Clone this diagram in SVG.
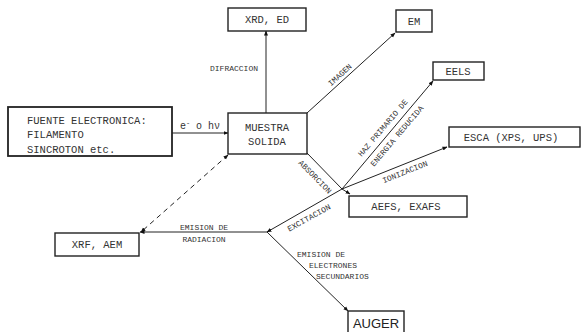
<svg xmlns="http://www.w3.org/2000/svg" width="582" height="332" viewBox="0 0 582 332">
<defs>
<marker id="ah" viewBox="0 0 10 10" refX="9" refY="5" markerWidth="5" markerHeight="5" orient="auto-start-reverse" markerUnits="userSpaceOnUse">
<path d="M0,1 L10,5 L0,9 z" fill="#111"/>
</marker>
<style>
.box{fill:#fff;stroke:#222;stroke-width:1.4}
.t{font-family:"Liberation Mono","DejaVu Sans Mono",monospace;font-size:10.5px;fill:#333;text-anchor:middle}
.s{font-family:"Liberation Mono","DejaVu Sans Mono",monospace;font-size:8px;fill:#333;text-anchor:middle}
.ln{stroke:#222;stroke-width:1;fill:none}
.ar{marker-end:url(#ah)}
.dash{stroke-dasharray:5,4}
</style>
</defs>
<rect width="582" height="332" fill="#fff"/>

<g id="connectors">
<line class="ln ar" x1="172" y1="133" x2="228" y2="133"/>
<line class="ln ar" x1="266" y1="113" x2="266" y2="31"/>
<line class="ln ar" x1="307" y1="113" x2="395" y2="33"/>
<line class="ln" x1="307" y1="153" x2="342" y2="189"/>
<line class="ln ar" x1="342" y1="189" x2="433" y2="81"/>
<line class="ln ar" x1="342" y1="189" x2="447" y2="147"/>
<line class="ln ar" x1="342" y1="189" x2="350" y2="194"/>
<line class="ln ar" x1="342" y1="189" x2="267" y2="232"/>
<line class="ln ar" x1="267" y1="232" x2="140" y2="232"/>
<line class="ln ar" x1="267" y1="232" x2="348" y2="311"/>
<line class="ln dash" x1="228" y1="155" x2="141" y2="232" marker-start="url(#ah)" marker-end="url(#ah)"/>

<text class="s" x="234" y="71">DIFRACCION</text>
<text class="t" x="200" y="129" style="font-size:10px">e<tspan dy="-4" font-size="7">-</tspan><tspan dy="4"> o h</tspan>ν</text>
<text class="s" transform="translate(340,75) rotate(-42.3)" y="2.5">IMAGEN</text>
<text class="s" transform="translate(383,128) rotate(-49.7)" y="2.5">HAZ PRIMARIO DE</text>
<text class="s" transform="translate(397,136) rotate(-49.7)" y="2.5">ENERGIA REDUCIDA</text>
<text class="s" transform="translate(405,172) rotate(-21.8)" y="2.5">IONIZACION</text>
<text class="s" transform="translate(315,177) rotate(45.5)" y="2.5">ABSORCION</text>
<text class="s" transform="translate(309,218) rotate(-29)" y="2.5">EXCITACION</text>
<text class="s" x="204" y="230">EMISION DE</text>
<text class="s" x="204" y="242">RADIACION</text>
<text class="s" x="297" y="257" style="text-anchor:start">EMISION DE</text>
<text class="s" x="309" y="268" style="text-anchor:start">ELECTRONES</text>
<text class="s" x="316" y="279" style="text-anchor:start">SECUNDARIOS</text>
</g>

<g id="fuente">
<rect class="box" x="8" y="107" width="164" height="49" style="stroke-width:1.8"/>
<text class="t" x="27" y="124" style="text-anchor:start">FUENTE ELECTRONICA:</text>
<text class="t" x="27" y="138" style="text-anchor:start">FILAMENTO</text>
<text class="t" x="27" y="153" style="text-anchor:start">SINCROTON etc.</text>
</g>
<g id="muestra">
<rect class="box" x="228" y="113" width="79" height="41"/>
<text class="t" x="267" y="131">MUESTRA</text>
<text class="t" x="267" y="145">SOLIDA</text>
</g>
<g id="xrd">
<rect class="box" x="228" y="8" width="78" height="23"/>
<text class="t" x="267" y="23">XRD, ED</text>
</g>
<g id="em">
<rect class="box" x="396" y="10" width="36" height="22"/>
<text class="t" x="414" y="25">EM</text>
</g>
<g id="eels">
<rect class="box" x="433" y="62" width="51" height="18"/>
<text class="t" x="458" y="75">EELS</text>
</g>
<g id="esca">
<rect class="box" x="449" y="127" width="131" height="20"/>
<text class="t" x="511" y="141">ESCA (XPS, UPS)</text>
</g>
<g id="aefs">
<rect class="box" x="349" y="196" width="118" height="21"/>
<text class="t" x="406" y="210">AEFS, EXAFS</text>
</g>
<g id="xrf">
<rect class="box" x="55" y="233" width="84" height="23"/>
<text class="t" x="97" y="248">XRF, AEM</text>
</g>
<g id="auger">
<rect class="box" x="348" y="311" width="56" height="24"/>
<text x="376" y="328" style="font-family:'Liberation Sans',Arial,sans-serif;font-size:13px;fill:#222;text-anchor:middle">AUGER</text>
</g>
</svg>
